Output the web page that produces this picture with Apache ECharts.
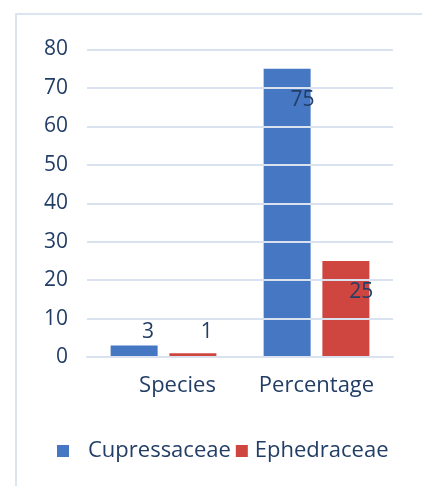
<!DOCTYPE html>
<html>
<head>
<meta charset="utf-8">
<script src="https://cdn.jsdelivr.net/npm/echarts@6/dist/echarts.min.js"></script>
<style>
  html, body { margin: 0; padding: 0; background: #ffffff; overflow: hidden; }
  #chart { width: 422px; height: 486px; }
</style>
</head>
<body>
<div id="chart"></div>
<script>
// Categories and values for the two plant families
const categories = ['Species', 'Percentage'];
const cupressaceae = [3, 75];
const ephedraceae = [1, 25];
const yTicks = [0, 10, 20, 30, 40, 50, 60, 70, 80];

const textColor = '#223e66';
const fontFamily = 'Open Sans, Lato, sans-serif';
const tickSize = 21;
const textSize = 22;

// Label placement: small values sit above the bar, large ones inside the top
function labelFor(value, smallOffset) {
  if (value < 10) {
    return { position: 'top', offset: smallOffset, distance: 3 };
  }
  return { position: 'insideTopRight', distance: 0, offset: [4, 21] };
}

function buildData(values, offsets) {
  return values.map((v, i) => ({ value: v, label: labelFor(v, offsets[i]) }));
}

const chart = echarts.init(document.getElementById('chart'), null, { renderer: 'canvas' });
chart.setOption({
  animation: false,
  backgroundColor: '#ffffff',
  // Panel outline: only the top and left edges fall inside the view
  graphic: [{
    type: 'polyline',
    shape: { points: [[16, 520], [16, 14], [440, 14]] },
    style: { fill: null, stroke: '#dbe4ef', lineWidth: 2 },
    silent: true
  }],
  grid: { left: 87, right: 29, top: 49.5, bottom: 129 },
  legend: {
    bottom: 19,
    left: 52,
    itemWidth: 12,
    itemHeight: 12,
    itemGap: 5,
    icon: 'rect',
    textStyle: { color: textColor, fontSize: textSize, fontFamily: fontFamily },
    data: [
      { name: 'Cupressaceae', textStyle: { padding: [0, 0, 0, 14] } },
      { name: 'Ephedraceae', textStyle: { padding: [0, 0, 0, 2] } }
    ]
  },
  xAxis: {
    type: 'category',
    data: categories.map((c, i) => i === 0
      ? { value: c, textStyle: { padding: [0, 0, 0, 28] } }
      : { value: c }),
    axisLine: { lineStyle: { color: '#d6dfea', width: 2 } },
    axisTick: { show: false },
    axisLabel: { color: textColor, fontSize: textSize, fontFamily: fontFamily, margin: 18 }
  },
  yAxis: {
    type: 'value',
    min: 0,
    max: 80,
    interval: 10,
    z: 3,
    axisLine: { show: false },
    axisTick: { show: false },
    splitLine: { lineStyle: { color: '#d9e2ee', width: 2 } },
    axisLabel: {
      color: textColor, fontSize: tickSize, fontFamily: fontFamily, margin: 19,
      formatter: v => yTicks.includes(v) ? String(v) : ''
    }
  },
  series: [
    {
      name: 'Cupressaceae',
      type: 'bar',
      barWidth: 47,
      barGap: '25%',
      itemStyle: { color: '#4677c3' },
      label: { show: true, color: textColor, fontSize: tickSize, fontFamily: fontFamily },
      data: buildData(cupressaceae, [[14, 0], [14, 0]])
    },
    {
      name: 'Ephedraceae',
      type: 'bar',
      barWidth: 47,
      itemStyle: { color: '#cf4540' },
      label: { show: true, color: textColor, fontSize: tickSize, fontFamily: fontFamily },
      data: buildData(ephedraceae, [[14, -8], [14, -8]])
    }
  ]
});
</script>
</body>
</html>
